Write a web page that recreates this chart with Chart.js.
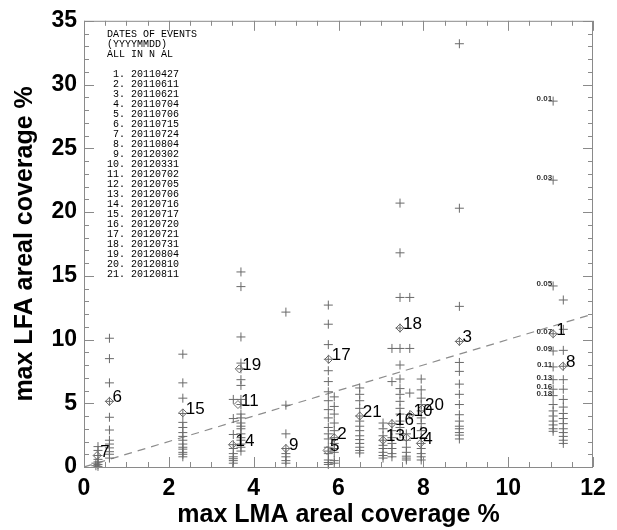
<!DOCTYPE html>
<html>
<head>
<meta charset="utf-8">
<script src="https://cdn.jsdelivr.net/npm/chart.js@4.4.1/dist/chart.umd.min.js"></script>
<style>
  html, body { margin: 0; padding: 0; background: #fff; }
  canvas { display: block; }
</style>
</head>
<body>
<canvas id="grafica" width="617" height="530"></canvas>
<script>
// Columnas de cruces: posicion x de cada columna y sus valores y
const colX = [0.28, 0.33, 0.6, 2.33, 3.52, 3.7, 4.76, 5.76, 5.9, 6.5, 7.05, 7.26, 7.45, 7.6, 7.68, 7.95, 8.85, 11.06, 11.3];
const colY = [
    [0.3, 0.1],
    [1.6, 1.3, 0.9, 0.6, 0.4, 0.2, 0.05],
    [10.1, 8.5, 6.6, 5.15, 3.9, 2.9, 2.1, 1.8, 1.5, 1.2, 1.0, 0.7],
    [8.85, 6.6, 5.4, 4.2, 3.5, 3.1, 2.7, 2.4, 2.1, 1.8, 1.55, 1.4, 1.15, 1.0, 0.8],
    [5.3, 3.8, 2.55, 1.75, 1.45, 1.05, 0.8, 0.65, 0.5, 0.3],
    [15.3, 14.15, 10.2, 8.15, 7.7, 6.85, 6.4, 5.3, 4.9, 4.15, 3.85, 3.45, 3.2, 3.0, 2.6, 2.3, 2.1, 1.8, 1.55, 1.25],
    [12.15, 4.85, 2.6, 1.45, 1.05, 0.8, 0.5, 0.3],
    [12.7, 11.2, 9.6, 8.45, 7.55, 6.7, 5.9, 5.2, 4.5, 3.85, 3.1, 2.6, 2.2, 1.55, 1.25, 1.05, 0.55, 0.35, 0.2],
    [5.5, 4.75, 4.15, 3.45, 2.85, 2.3, 1.85, 1.45, 1.15, 0.5, 0.3],
    [6.2, 5.7, 5.2, 4.6, 4.0, 3.6, 3.2, 2.85, 2.45, 2.15, 1.85, 1.55, 1.3, 1.1],
    [3.45, 3.0, 2.45, 2.1, 1.7, 1.45, 1.15, 0.9, 0.7],
    [9.3, 6.7, 3.4, 2.85, 2.3, 1.85, 1.45, 1.05, 0.8],
    [20.7, 16.8, 13.3, 10.9, 9.3, 8.0, 6.9, 6.15, 5.7, 5.15, 4.6, 4.15, 3.6, 3.1, 2.6],
    [2.6, 2.1, 1.55, 1.15, 0.85, 0.7, 0.55],
    [13.3, 9.3, 5.8, 4.1],
    [6.9, 6.05, 5.4, 4.9, 4.4, 3.85, 3.4, 2.85, 2.3, 1.85, 1.45, 1.05, 0.8, 0.55],
    [33.2, 20.3, 12.6, 9.85, 8.2, 7.5, 6.5, 5.7, 4.9, 4.1, 3.6, 3.2, 3.0, 2.7, 2.5, 2.2],
    [28.7, 22.5, 14.2, 10.45, 9.1, 7.85, 6.85, 6.1, 5.6, 4.9, 4.4, 4.0, 3.6, 3.3, 3.0, 2.8],
    [13.1, 10.8, 9.15, 7.9, 6.85, 6.1, 5.3, 4.7, 4.2, 3.8, 3.4, 3.0, 2.7, 2.4, 2.1, 1.85]
];

// Eventos numerados (rombos)
const eventNums = ['1','2','3','4','5','6','7','8','9','10','11','12','13','14','15','16','17','18','19','20','21'];
const eventX = [11.06, 5.9, 8.85, 7.93, 5.73, 0.6, 0.31, 11.29, 4.76, 7.7, 3.63, 7.6, 7.05, 3.5, 2.33, 7.26, 5.77, 7.45, 3.66, 7.97, 6.5];
const eventY = [10.45, 2.3, 9.85, 1.85, 1.3, 5.15, 0.9, 7.9, 1.45, 4.1, 4.9, 2.3, 2.1, 1.75, 4.25, 3.4, 8.45, 10.9, 7.7, 4.55, 4.0];
const eventDates = ['20110427','20110611','20110621','20110704','20110706','20110715','20110724','20110804',
    '20120302','20120331','20120702','20120705','20120706','20120716','20120717','20120720',
    '20120721','20120731','20120804','20120810','20120811'];

// Etiquetas de umbral en la columna del evento 1
const threshLabels = ['0.01','0.03','0.05','0.07','0.09','0.11','0.13','0.16','0.18'];
const threshX = 11.06;
const threshY = [28.7, 22.5, 14.2, 10.45, 9.1, 7.85, 6.85, 6.1, 5.6];

// Linea 1:1
const lineX = [0, 12];
const lineY = [0, 12];

// Ejes
const xTicks = [0, 2, 4, 6, 8, 10, 12];
const yTicks = [0, 5, 10, 15, 20, 25, 30, 35];

const cruces = [];
colX.forEach((x, i) => colY[i].forEach(y => cruces.push({ x: x, y: y })));
const rombos = eventX.map((x, i) => ({ x: x, y: eventY[i] }));
const linea = lineX.map((x, i) => ({ x: x, y: lineY[i] }));

const fuenteEje = { family: 'Liberation Sans, Arial, sans-serif', size: 23, weight: 'bold' };
const fuenteTitulo = { family: 'Liberation Sans, Arial, sans-serif', size: 25, weight: 'bold' };

// Marco y marcas de graduacion hacia dentro
const marcoPlugin = {
    id: 'marco',
    afterDraw(chart) {
        const ctx = chart.ctx;
        const a = chart.chartArea;
        const sx = chart.scales.x, sy = chart.scales.y;
        ctx.save();
        ctx.strokeStyle = '#8a8a8a';
        ctx.lineWidth = 1;
        ctx.strokeRect(a.left + 0.5, a.top + 0.5, a.right - a.left - 1, a.bottom - a.top);
        ctx.beginPath();
        for (let v = 0; v <= 12.001; v += 0.5) {
            const px = Math.round(sx.getPixelForValue(v)) + 0.5;
            const len = (Math.abs(v % 2) < 0.01) ? 10 : 5;
            ctx.moveTo(px, a.bottom); ctx.lineTo(px, a.bottom - len);
            ctx.moveTo(px, a.top); ctx.lineTo(px, a.top + len);
        }
        for (let v = 0; v <= 35.001; v += 1) {
            const py = Math.round(sy.getPixelForValue(v)) + 0.5;
            const len = (v % 5 === 0) ? 10 : 5;
            ctx.moveTo(a.left, py); ctx.lineTo(a.left + len, py);
            ctx.moveTo(a.right, py); ctx.lineTo(a.right - len, py);
        }
        ctx.stroke();
        ctx.restore();
    }
};

// Textos: numeros de evento, umbrales y lista de fechas
const textosPlugin = {
    id: 'textos',
    afterDatasetsDraw(chart) {
        const ctx = chart.ctx;
        const sx = chart.scales.x, sy = chart.scales.y;
        ctx.save();
        const meta = chart.getDatasetMeta(1);
        ctx.fillStyle = '#000';
        ctx.font = '17px "Liberation Sans", Arial, sans-serif';
        ctx.textAlign = 'left';
        ctx.textBaseline = 'alphabetic';
        meta.data.forEach((p, i) => {
            ctx.fillText(eventNums[i], p.x + 3, p.y + 1);
        });

        ctx.font = 'bold 8px "Liberation Sans", Arial, sans-serif';
        ctx.fillStyle = '#333';
        ctx.textAlign = 'right';
        ctx.textBaseline = 'middle';
        threshLabels.forEach((t, i) => {
            ctx.fillText(t, sx.getPixelForValue(threshX) - 1, sy.getPixelForValue(threshY[i]) - 2);
        });

        ctx.font = '10px "Liberation Mono", "DejaVu Sans Mono", monospace';
        ctx.fillStyle = '#000';
        ctx.textAlign = 'left';
        ctx.textBaseline = 'middle';
        const x0 = 107, y0 = 34, paso = 10;
        ctx.fillText('DATES OF EVENTS', x0, y0);
        ctx.fillText('(YYYYMMDD)', x0, y0 + paso);
        ctx.fillText('ALL IN N AL', x0, y0 + paso * 2);
        eventDates.forEach((d, i) => {
            const n = (i + 1) + '.';
            const linea = (n.length < 3 ? ' ' + n : n) + ' ' + d;
            ctx.fillText(linea, x0, y0 + paso * (4 + i));
        });
        ctx.restore();
    }
};

new Chart(document.getElementById('grafica').getContext('2d'), {
    type: 'scatter',
    data: {
        datasets: [
            {
                data: cruces,
                pointStyle: 'cross',
                pointRadius: 4.5,
                borderColor: '#6a6a6a',
                borderWidth: 1,
                clip: false
            },
            {
                data: rombos,
                pointStyle: 'rectRot',
                pointRadius: 4,
                borderColor: '#6a6a6a',
                backgroundColor: 'rgba(0,0,0,0)',
                borderWidth: 1,
                clip: false
            },
            {
                type: 'line',
                data: linea,
                borderColor: '#8c8c8c',
                borderWidth: 1.2,
                borderDash: [8, 6],
                pointRadius: 0,
                fill: false
            }
        ]
    },
    options: {
        responsive: false,
        animation: false,
        layout: { padding: { top: 11, right: 24, left: 0, bottom: 0 } },
        plugins: { legend: { display: false }, tooltip: { enabled: false } },
        scales: {
            x: {
                type: 'linear', min: 0, max: 12,
                afterBuildTicks: s => { s.ticks = xTicks.map(v => ({ value: v })); },
                ticks: { font: fuenteEje, color: '#000', padding: 8 },
                grid: { display: false, drawTicks: false },
                border: { display: false },
                title: { display: true, text: 'max LMA areal coverage %', font: fuenteTitulo, color: '#000', padding: { top: 0, bottom: 0 } },
                afterFit: s => { s.height = 63; }
            },
            y: {
                type: 'linear', min: 0, max: 35,
                afterBuildTicks: s => { s.ticks = yTicks.map(v => ({ value: v })); },
                ticks: { font: fuenteEje, color: '#000', padding: 7 },
                grid: { display: false, drawTicks: false },
                border: { display: false },
                title: { display: true, text: 'max LFA areal coverage %', font: fuenteTitulo, color: '#000', padding: { top: 10, bottom: 0 } },
                afterFit: s => { s.width = 84; }
            }
        }
    },
    plugins: [marcoPlugin, textosPlugin]
});
</script>
</body>
</html>
